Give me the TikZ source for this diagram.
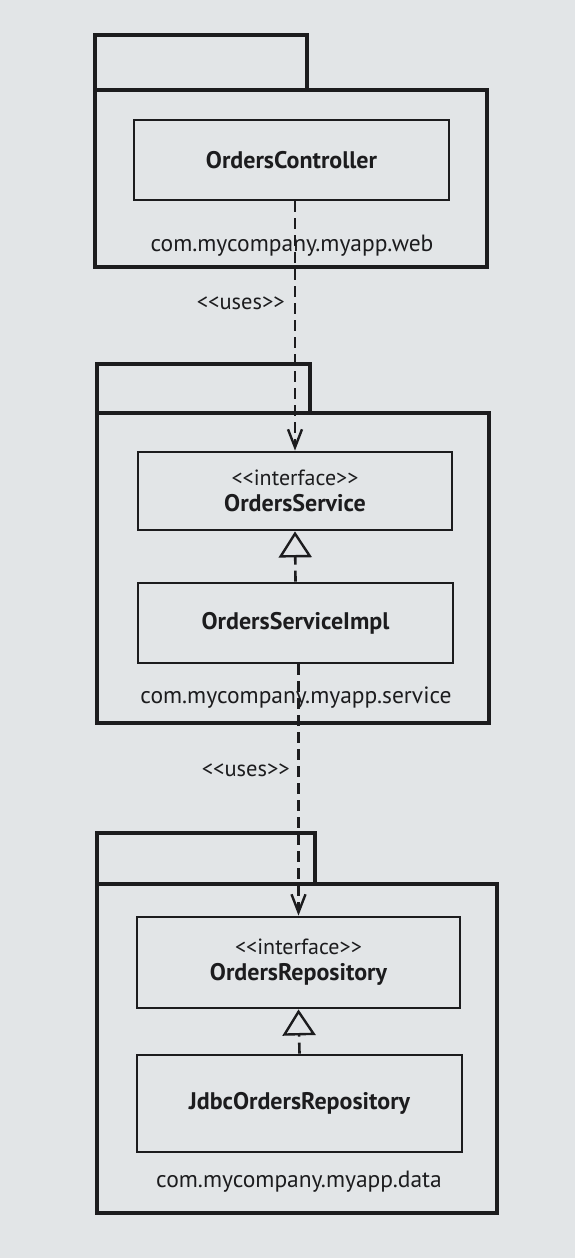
\documentclass[tikz,border=0pt]{standalone}
\usepackage{fontspec}
\setmainfont{PT Sans}
\usetikzlibrary{arrows.meta,calc}
\definecolor{paper}{RGB}{226,229,231}
\definecolor{ink}{RGB}{28,28,30}
\tikzset{
  pkgpart/.style={draw=ink, line width=3.5pt, rectangle, inner sep=0pt, minimum width=#1},
  classbox/.style={draw=ink, line width=2.8pt, rectangle, inner sep=0pt, align=center, text=ink,
     font=\fontsize{24}{26}\selectfont},
  pkglabel/.style={text=ink, inner sep=0pt, font=\fontsize{23.5}{26}\selectfont},
  stereo/.style={text=ink, inner sep=0pt, font=\fontsize{22.5}{24}\selectfont},
  uses/.style={draw=ink, line width=2.6pt, dash pattern=on 11pt off 6pt,
     -{Straight Barb[length=18pt,width=14pt,line width=2.4pt]}},
  realize/.style={draw=ink, line width=2.6pt, dash pattern=on 11pt off 6pt,
     -{Triangle[length=26pt,width=33pt,fill=paper,line width=2.4pt]}}
}
\newcommand{\stype}[1]{{\fontsize{22}{24}\selectfont #1}}
\begin{document}
\begin{tikzpicture}[x=1pt,y=-1pt]
\fill[paper] (0,0) rectangle (575,1258);
\useasboundingbox (0,0) rectangle (575,1258);

% web package
\node[pkgpart=212pt, minimum height=55pt] (webtab) at (201,62.5) {};
\node[pkgpart=392pt, minimum height=177pt] (webbody) at (291,178.5) {};
\node[classbox, minimum width=315pt, minimum height=80pt] (ctrl) at (291.5,160) {\bfseries OrdersController};
\node[pkglabel] (weblbl) at (292,246) {com.mycompany.myapp.web};

% service package
\node[pkgpart=213pt, minimum height=49pt] (svctab) at (203.5,388.5) {};
\node[pkgpart=392pt, minimum height=310pt] (svcbody) at (293,568) {};
\node[classbox, minimum width=314pt, minimum height=78pt] (svc) at (295,491) {\stype{<{}<interface>{}>}\\\bfseries OrdersService};
\node[classbox, minimum width=315pt, minimum height=80pt] (impl) at (295.5,623) {\bfseries OrdersServiceImpl};
\node[pkglabel] (svclbl) at (296,698) {com.mycompany.myapp.service};

% data package
\node[pkgpart=218pt, minimum height=51pt] (datatab) at (206,858.5) {};
\node[pkgpart=400pt, minimum height=329pt] (databody) at (297,1048.5) {};
\node[classbox, minimum width=323pt, minimum height=91pt] (repo) at (298.5,962.5) {\stype{<{}<interface>{}>}\\\bfseries OrdersRepository};
\node[classbox, minimum width=325pt, minimum height=97pt] (jdbc) at (299.5,1103.5) {\bfseries JdbcOrdersRepository};
\node[pkglabel] (datalbl) at (299,1182) {com.mycompany.myapp.data};

% connectors
\draw[uses] (svc.north |- ctrl.south) -- (svc.north);
\node[stereo, anchor=east] (uses1) at (285,303) {<{}<uses>{}>};
\draw[uses] (repo.north |- impl.south) -- (repo.north);
\node[stereo, anchor=east] (uses2) at (290,770) {<{}<uses>{}>};
\draw[realize] (impl.north) -- (svc.south);
\draw[realize] (jdbc.north) -- (repo.south);
\end{tikzpicture}
\end{document}
